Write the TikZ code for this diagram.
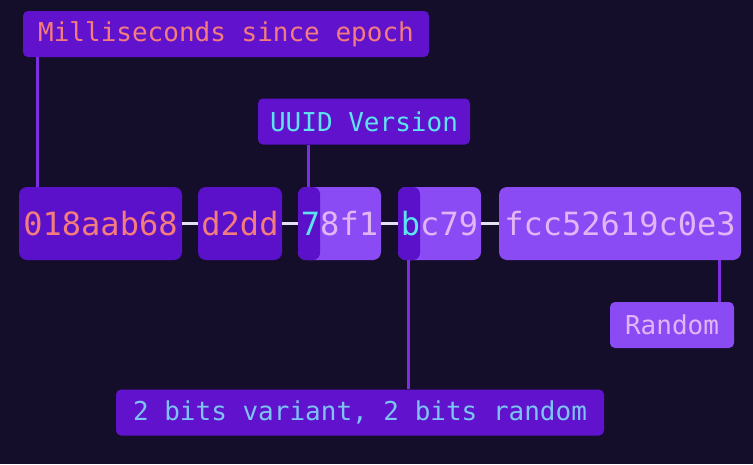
\documentclass[tikz,border=0pt]{standalone}
\usepackage{fontspec}
\newfontfamily\uuidfont{DejaVu Sans Mono}
\definecolor{bgcol}{HTML}{140E2B}
\definecolor{darkpart}{HTML}{5B10C9}
\definecolor{lightpart}{HTML}{8A4BF5}
\definecolor{tagcol}{HTML}{6012CC}
\definecolor{linkcol}{HTML}{7B2FE0}
\definecolor{salmon}{HTML}{F47C7C}
\definecolor{lavender}{HTML}{E2B6F5}
\definecolor{cyanish}{HTML}{5EE3F0}
\definecolor{skyish}{HTML}{7CC4F5}
\definecolor{dashcol}{HTML}{E6DEF2}
\tikzset{
    part/.style={
        rounded corners=8pt, inner sep=0pt,
        minimum height=73pt,
        font=\uuidfont\fontsize{32}{38}\selectfont
    },
    dark part/.style={part, fill=darkpart, text=salmon},
    light part/.style={part, fill=lightpart, text=lavender},
    marked/.style={path picture={
        \fill[darkpart, rounded corners=7pt]
            (path picture bounding box.south west)
            rectangle ([xshift=22pt]path picture bounding box.north west);
    }},
    tag/.style={
        rounded corners=5pt, inner sep=0pt,
        minimum height=46pt, fill=tagcol,
        font=\uuidfont\fontsize{26}{31}\selectfont
    },
    link/.style={linkcol, line width=3pt},
    dash line/.style={dashcol, line width=3pt}
}

\begin{document}
\begin{tikzpicture}[x=1pt, y=-1pt]
    \fill[bgcol] (0,0) rectangle (753,464);
    \useasboundingbox (0,0) rectangle (753,464);
    % UUID parts
    \node[dark part, minimum width=163pt] (ts) at (100.5,223.5) {018aab68};
    \node[dark part, minimum width=84pt] (tsb) at (240,223.5) {d2dd};
    \node[light part, marked, minimum width=83pt] (ver) at (339.5,223.5)
        {\textcolor{cyanish}{7}8f1};
    \node[light part, marked, minimum width=83pt] (var) at (439.5,223.5)
        {\textcolor{cyanish}{b}c79};
    \node[light part, minimum width=242pt] (rnd) at (620,223.5) {fcc52619c0e3};
    \draw[dash line] (ts.east) -- (tsb.west);
    \draw[dash line] (tsb.east) -- (ver.west);
    \draw[dash line] (ver.east) -- (var.west);
    \draw[dash line] (var.east) -- (rnd.west);
    % Tags
    \node[tag, minimum width=406pt, text=salmon] (ms) at (226,34)
        {Milliseconds since epoch};
    \node[tag, minimum width=212pt, text=cyanish] (vertag) at (364,121.5)
        {UUID Version};
    \node[tag, minimum width=124pt, fill=lightpart, text=lavender] (rndtag)
        at (672,325) {Random};
    \node[tag, minimum width=488pt, text=skyish] (vartag) at (360,412.5)
        {2 bits variant, 2 bits random};
    % Links
    \draw[link] ([xshift=19pt]ts.north west) -- ([xshift=19pt]ts.north west |- ms.south);
    \draw[link] ([xshift=11pt]ver.north west) -- ([xshift=11pt]ver.north west |- vertag.south);
    \draw[link] ([xshift=11pt]var.south west) -- ([xshift=11pt]var.south west |- vartag.north);
    \draw[link] ([xshift=-22pt]rnd.south east) -- ([xshift=-22pt]rnd.south east |- rndtag.north);
\end{tikzpicture}
\end{document}
